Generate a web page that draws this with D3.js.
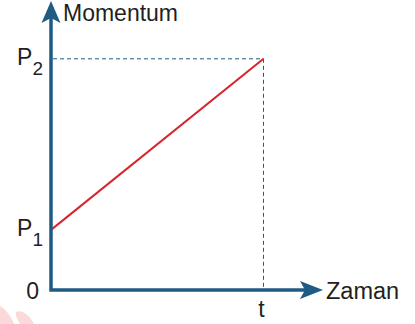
<!DOCTYPE html>
<html><head><meta charset="utf-8">
<script src="https://cdn.jsdelivr.net/npm/d3@7/dist/d3.min.js"></script>
<style>html,body{margin:0;padding:0;background:#fff}svg{display:block}</style>
</head><body>
<svg id="c" width="415" height="324"></svg>
<script>
// Data
const timeValues = [0, 1];          // 0 .. t
const momentumValues = [0.26, 1];   // P1 .. P2
const yTickLabels = [
  {v: 0, main: "0", sub: ""},
  {v: 0.26, main: "P", sub: "1"},
  {v: 1, main: "P", sub: "2"}
];
const xTickLabels = [{v: 1, label: "t"}];
const yAxisTitle = "Momentum";
const xAxisTitle = "Zaman";

const svg = d3.select("#c");
const x = d3.scaleLinear().domain([0, 1.28]).range([51, 323]);
const y = d3.scaleLinear().domain([0, 1.25]).range([290, 1]);

const axisColor = "#1f5b82";
const textColor = "#231f20";
const font = "Liberation Sans, Arial, Helvetica, sans-serif";

// watermark (decorative)
svg.append("path")
  .attr("d", "M0,306 C6,309 12,318 14,324 L0,324 Z")
  .attr("fill", "#fbd9d9");
svg.append("path")
  .attr("d", "M16,312 C22,309 30,316 34,324 L20,324 C18,320 15,316 16,312 Z")
  .attr("fill", "#fbd9d9");

// dashed guides
const tx = x(timeValues[1]), py = y(momentumValues[1]);
svg.append("line")
  .attr("x1", x(0) + 2).attr("x2", tx).attr("y1", py).attr("y2", py)
  .attr("stroke", axisColor).attr("stroke-width", 1).attr("stroke-dasharray", "4,3");
svg.append("line")
  .attr("x1", tx).attr("x2", tx).attr("y1", py).attr("y2", y(0) - 2)
  .attr("stroke", axisColor).attr("stroke-width", 1).attr("stroke-dasharray", "4,3");

// red line
const line = d3.line().x(d => x(d[0])).y(d => y(d[1]));
svg.append("path")
  .datum(timeValues.map((t, i) => [t, momentumValues[i]]))
  .attr("d", line)
  .attr("fill", "none").attr("stroke", "#d7242d").attr("stroke-width", 2);

// axes
const x0 = x(0), y0 = y(0);
const xEnd = x.range()[1], yEnd = y.range()[1];
svg.append("path")
  .attr("d", `M${x0},${yEnd + 18} L${x0},${y0} L${xEnd - 18},${y0}`)
  .attr("fill", "none").attr("stroke", axisColor).attr("stroke-width", 3.5)
  .attr("stroke-linejoin", "miter").attr("stroke-linecap", "square");
// arrowheads
svg.append("path")
  .attr("d", `M${x0},${yEnd} L${x0 + 9.5},${yEnd + 22} L${x0},${yEnd + 17} L${x0 - 9.5},${yEnd + 22} Z`)
  .attr("fill", axisColor);
svg.append("path")
  .attr("d", `M${xEnd},${y0} L${xEnd - 23},${y0 - 9} L${xEnd - 18},${y0} L${xEnd - 23},${y0 + 9} Z`)
  .attr("fill", axisColor);

// y labels
const yl = svg.append("g").attr("font-family", font).attr("fill", textColor);
yTickLabels.forEach(d => {
  const t = yl.append("text")
    .attr("x", d.sub ? x0 - 8 : x0 - 12)
    .attr("y", d.sub ? y(d.v) + 6 : y(d.v) + 9)
    .attr("text-anchor", "end")
    .attr("font-size", 23);
  t.append("tspan").text(d.main);
  if (d.sub) t.append("tspan").attr("dy", 10).attr("font-size", 19).text(d.sub);
});
// x labels
xTickLabels.forEach(d => {
  yl.append("text").attr("x", x(d.v) - 2).attr("y", y0 + 27)
    .attr("text-anchor", "middle").attr("font-size", 23).text(d.label);
});
// titles
yl.append("text").attr("x", x0 + 12).attr("y", 21).attr("font-size", 23).text(yAxisTitle);
yl.append("text").attr("x", xEnd + 3).attr("y", y0 + 8.5).attr("font-size", 23.5).text(xAxisTitle);
</script>
</body></html>
